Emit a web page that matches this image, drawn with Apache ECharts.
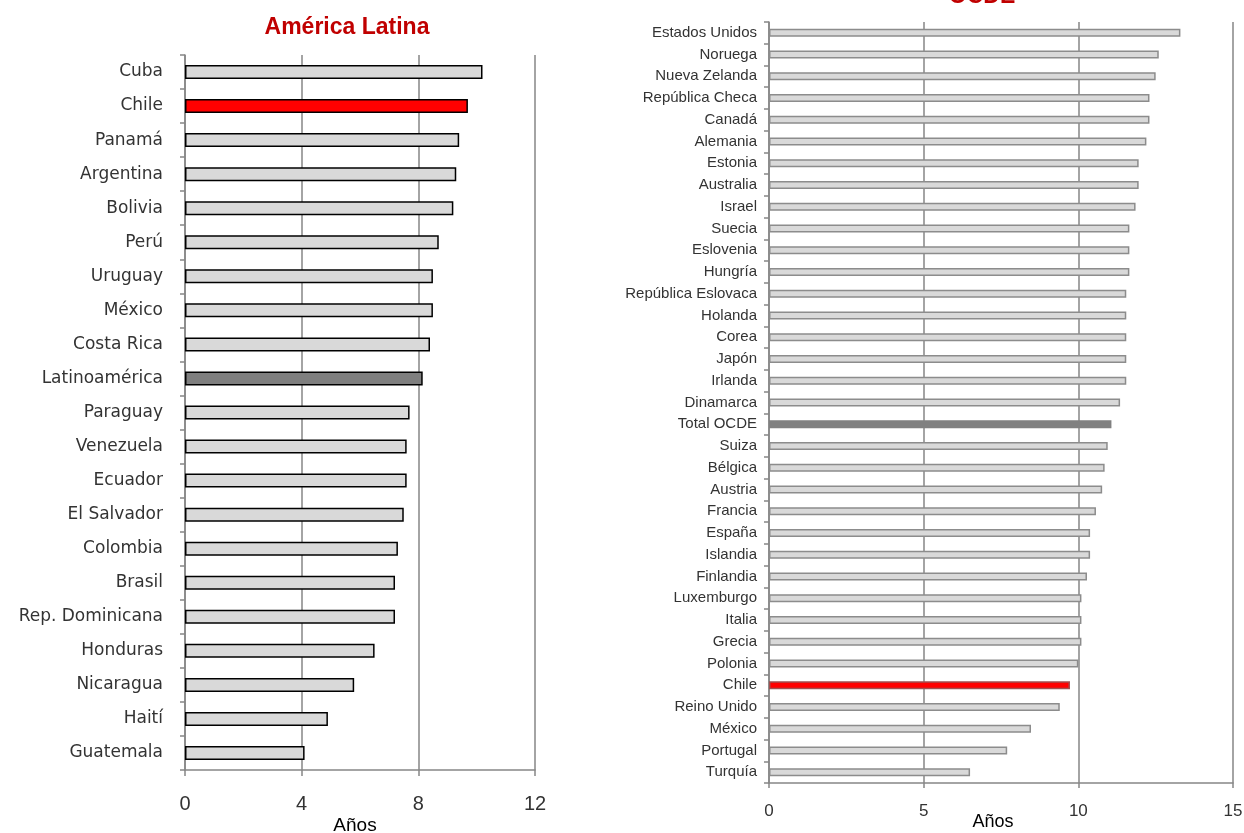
<!DOCTYPE html>
<html>
<head>
<meta charset="utf-8">
<script src="https://cdn.jsdelivr.net/npm/echarts@6/dist/echarts.min.js"></script>
<style>
html,body{margin:0;padding:0;background:#fff;}
#chart{width:1244px;height:833px;}
</style>
</head>
<body>
<div id="chart"></div>
<script>
// ---- Data ----
const latamCategories = ['Cuba','Chile','Panamá','Argentina','Bolivia','Perú','Uruguay','México','Costa Rica','Latinoamérica','Paraguay','Venezuela','Ecuador','El Salvador','Colombia','Brasil','Rep. Dominicana','Honduras','Nicaragua','Haití','Guatemala'];
const latamValues = [10.2,9.7,9.4,9.3,9.2,8.7,8.5,8.5,8.4,8.15,7.7,7.6,7.6,7.5,7.3,7.2,7.2,6.5,5.8,4.9,4.1];

const ocdeCategories = ['Estados Unidos','Noruega','Nueva Zelanda','República Checa','Canadá','Alemania','Estonia','Australia','Israel','Suecia','Eslovenia','Hungría','República Eslovaca','Holanda','Corea','Japón','Irlanda','Dinamarca','Total OCDE','Suiza','Bélgica','Austria','Francia','España','Islandia','Finlandia','Luxemburgo','Italia','Grecia','Polonia','Chile','Reino Unido','México','Portugal','Turquía'];
const ocdeValues = [13.3,12.6,12.5,12.3,12.3,12.2,11.95,11.95,11.85,11.65,11.65,11.65,11.55,11.55,11.55,11.55,11.55,11.35,11.07,10.95,10.85,10.77,10.57,10.38,10.38,10.28,10.1,10.1,10.1,10.0,9.73,9.4,8.47,7.7,6.5];

const latamTicks = [0,4,8,12];
const ocdeTicks = [0,5,10,15];
const leftTitle = 'América Latina';
const rightTitle = 'OCDE';
const axisName = 'Años';

// ---- Styles ----
const gridGray = '#868686';

function latamItem(v, i) {
  const c = latamCategories[i];
  let color = '#d9d9d9';
  if (c === 'Chile') color = '#ff0000';
  if (c === 'Latinoamérica') color = '#7f7f7f';
  return { value: v, itemStyle: { color: color, borderColor: '#000', borderWidth: 1.5 } };
}
function ocdeItem(v, i) {
  const c = ocdeCategories[i];
  let color = '#d9d9d9', border = '#8c8c8c', bw = 1.5;
  if (c === 'Chile') { color = '#ff0000'; border = '#a05050'; }
  if (c === 'Total OCDE') { color = '#808080'; border = '#808080'; bw = 3; }
  return { value: v, itemStyle: { color: color, borderColor: border, borderWidth: bw } };
}

const chart = echarts.init(document.getElementById('chart'), null, { renderer: 'canvas' });
chart.setOption({
  animation: false,
  backgroundColor: '#fff',
  graphic: [
    { type: 'text', x: 347, y: 28, style: { text: leftTitle, fill: '#c00000', font: 'bold 23px "Liberation Sans", Arial, sans-serif', textAlign: 'center', textVerticalAlign: 'middle' } },
    { type: 'text', x: 982, y: -3, style: { text: rightTitle, fill: '#c00000', font: 'bold 23px "Liberation Sans", Arial, sans-serif', textAlign: 'center', textVerticalAlign: 'middle' } }
  ],
  grid: [
    { left: 185, top: 55, width: 350, height: 715, outerBoundsMode: 'none', containLabel: false },
    { left: 769, top: 22, width: 464, height: 761, outerBoundsMode: 'none', containLabel: false }
  ],
  xAxis: [
    {
      gridIndex: 0, type: 'value', min: 0, max: 12, interval: 4,
      name: axisName, nameLocation: 'middle', nameGap: 46, nameMoveOverlap: false,
      nameTextStyle: { color: '#000', fontSize: 19, fontFamily: '"Liberation Sans", Arial, sans-serif', padding: [0, 10, 0, 0] },
      axisLine: { show: true, lineStyle: { color: gridGray, width: 1.5 } },
      axisTick: { show: true, length: 6, lineStyle: { color: gridGray, width: 1.5 } },
      axisLabel: { margin: 24, color: '#333', fontSize: 20, fontFamily: '"Liberation Sans", Arial, sans-serif',
        formatter: v => latamTicks.includes(v) ? String(v) : '' },
      splitLine: { show: true, lineStyle: { color: gridGray, width: 1.5 } }
    },
    {
      gridIndex: 1, type: 'value', min: 0, max: 15, interval: 5,
      name: axisName, nameLocation: 'middle', nameGap: 30, nameMoveOverlap: false,
      nameTextStyle: { color: '#000', fontSize: 18, fontFamily: '"Liberation Sans", Arial, sans-serif', padding: [0, 16, 0, 0] },
      axisLine: { show: true, lineStyle: { color: gridGray, width: 1.5 } },
      axisTick: { show: true, length: 5, lineStyle: { color: gridGray, width: 1.5 } },
      axisLabel: { margin: 20, color: '#333', fontSize: 17, fontFamily: '"Liberation Sans", Arial, sans-serif',
        formatter: v => ocdeTicks.includes(v) ? String(v) : '' },
      splitLine: { show: true, lineStyle: { color: gridGray, width: 1.5 } }
    }
  ],
  yAxis: [
    {
      gridIndex: 0, type: 'category', inverse: true, data: latamCategories,
      axisLine: { show: true, lineStyle: { color: gridGray, width: 1.5 } },
      axisTick: { show: true, length: 5, inside: false, lineStyle: { color: gridGray, width: 1.5 } },
      axisLabel: { margin: 22, color: '#333', fontSize: 17, fontFamily: '"DejaVu Sans", sans-serif' }
    },
    {
      gridIndex: 1, type: 'category', inverse: true, data: ocdeCategories,
      axisLine: { show: true, lineStyle: { color: gridGray, width: 1.5 } },
      axisTick: { show: true, length: 5, lineStyle: { color: gridGray, width: 1.5 } },
      axisLabel: { margin: 12, color: '#333', fontSize: 15, fontFamily: '"Liberation Sans", Arial, sans-serif' }
    }
  ],
  series: [
    {
      type: 'bar', xAxisIndex: 0, yAxisIndex: 0, barWidth: 14,
      data: latamValues.map(latamItem)
    },
    {
      type: 'bar', xAxisIndex: 1, yAxisIndex: 1, barWidth: 8,
      data: ocdeValues.map(ocdeItem)
    }
  ]
});
</script>
</body>
</html>
